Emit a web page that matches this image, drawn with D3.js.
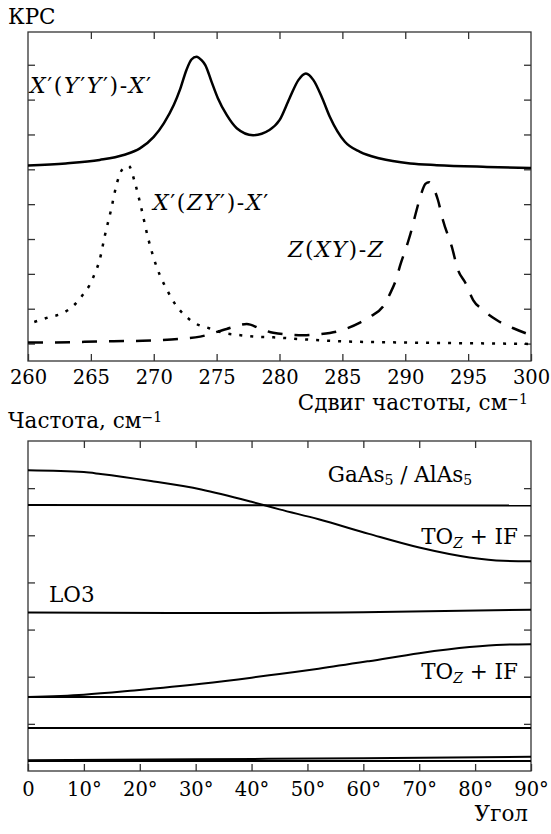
<!DOCTYPE html>
<html>
<head>
<meta charset="utf-8">
<script src="https://cdn.jsdelivr.net/npm/d3@7"></script>
<style>
  body { margin: 0; background: #fff; }
  svg text { font-family: "DejaVu Serif", "Liberation Serif", "Times New Roman", serif; }
</style>
</head>
<body>
<div id="chart"></div>
<script>
// --- top panel: Raman spectra (frequency shift, cm-1 ; arbitrary intensity)
const shiftTicks = [260, 265, 270, 275, 280, 285, 290, 295, 300];

const solidFreq = [260, 263, 265.7, 267.6, 268.9, 270, 270.8, 271.6, 272.1, 272.6, 273, 273.4, 273.8, 274.1, 274.6, 275.1, 275.8, 276.6, 277.9, 279.2, 280, 280.8, 281.5, 282.1, 282.7, 283.4, 284, 285.2, 286.4, 288, 290.4, 292.5, 296.5, 300];
const solidVal  = [5.11, 5.17, 5.27, 5.41, 5.6, 5.93, 6.32, 6.85, 7.3, 7.85, 8.15, 8.23, 8.13, 7.99, 7.51, 7.04, 6.56, 6.18, 5.98, 6.13, 6.41, 7.04, 7.56, 7.75, 7.56, 7.04, 6.51, 5.79, 5.5, 5.31, 5.17, 5.12, 5.07, 5.04];

const dotFreq = [260.5, 261.6, 262.8, 263.6, 264.3, 264.9, 265.3, 265.7, 266.1, 266.6, 267.1, 267.5, 268, 268.5, 269, 269.5, 270, 270.5, 271, 271.8, 272.5, 273.3, 274.4, 275.4, 276.9, 278, 279.5, 282, 284.6, 290, 295, 300];
const dotVal  = [0.62, 0.75, 0.88, 1.08, 1.37, 1.68, 2.0, 2.4, 3.08, 3.83, 4.64, 5.0, 5.1, 4.62, 3.9, 3.1, 2.45, 1.95, 1.58, 1.08, 0.8, 0.58, 0.44, 0.32, 0.24, 0.2, 0.18, 0.12, 0.07, 0.03, 0.01, -0.01];

const dashFreq = [260, 261.6, 264.5, 266.8, 269.1, 271.4, 273.7, 275.8, 277.4, 278.4, 279.5, 281.9, 283.2, 284.5, 286.4, 287.2, 288.3, 288.8, 289.3, 289.6, 290.1, 290.5, 290.8, 291.2, 291.6, 291.9, 292.2, 292.6, 293, 293.7, 294.2, 294.8, 295.4, 296.2, 297.3, 298.6, 300];
const dashVal  = [0.03, 0.03, 0.05, 0.07, 0.08, 0.12, 0.2, 0.42, 0.56, 0.44, 0.31, 0.24, 0.27, 0.34, 0.6, 0.77, 1.1, 1.44, 1.87, 2.25, 2.78, 3.26, 3.69, 4.21, 4.58, 4.63, 4.5, 4.12, 3.54, 2.78, 2.11, 1.73, 1.25, 0.96, 0.67, 0.44, 0.24];

// --- bottom panel: mode frequency vs angle (arbitrary units)
const angleTicks = [0, 10, 20, 30, 40, 50, 60, 70, 80, 90];
const angleLabels = ["0", "10°", "20°", "30°", "40°", "50°", "60°", "70°", "80°", "90°"];

const modeAngles = [
  [0, 10, 13, 22, 31, 40, 45, 52, 61, 70, 79, 85, 90],
  [0, 90],
  [0, 40, 60, 90],
  [0, 10, 19, 31, 40, 45, 52, 61, 70, 79, 85, 90],
  [0, 90],
  [0, 90],
  [0, 90],
  [0, 30, 60, 90]
];
const modeFreqs = [
  [6.38, 6.34, 6.30, 6.15, 5.97, 5.71, 5.55, 5.34, 5.03, 4.74, 4.53, 4.46, 4.45],
  [5.64, 5.63],
  [3.36, 3.35, 3.37, 3.42],
  [1.57, 1.62, 1.71, 1.85, 1.98, 2.06, 2.17, 2.33, 2.50, 2.63, 2.68, 2.69],
  [1.57, 1.57],
  [0.91, 0.91],
  [0.21, 0.21],
  [0.23, 0.25, 0.27, 0.30]
];

const W = 551, H = 834;
const svg = d3.select("#chart").append("svg")
    .attr("width", W)
    .attr("height", H);

const left = 28, right = 531;
const top1 = 32, bot1 = 361;
const top2 = 441, bot2 = 771;
const fs = 21.5;     // titles and labels
const tickFs = 19.5; // tick numbers

// ---------- top panel
const x1 = d3.scaleLinear().domain([260, 300]).range([left, right]);
const y1 = d3.scaleLinear().domain([-0.5, 8.94]).range([bot1, top1]);

function frame(t, b) {
  svg.append("rect")
      .attr("x", left).attr("y", t)
      .attr("width", right - left).attr("height", b - t)
      .attr("fill", "none")
      .attr("stroke", "#333")
      .attr("stroke-width", 1.3);
}

function tickGroup(axis, tx, ty) {
  const g = svg.append("g")
      .attr("transform", `translate(${tx},${ty})`)
      .call(axis)
      .attr("font-size", tickFs);
  g.select(".domain").remove();
  g.selectAll(".tick line").attr("stroke", "#333").attr("stroke-width", 1.3);
  g.selectAll("text").attr("fill", "#000");
  return g;
}

frame(top1, bot1);
tickGroup(d3.axisBottom(x1).tickValues(shiftTicks).tickSize(-7).tickPadding(9).tickFormat(d3.format("d")), 0, bot1);
tickGroup(d3.axisTop(x1).tickValues(shiftTicks.slice(1, -1)).tickSize(-7).tickFormat(""), 0, top1);
tickGroup(d3.axisLeft(y1).tickValues(d3.range(0, 9)).tickSize(-7).tickFormat(""), left, 0);
tickGroup(d3.axisRight(y1).tickValues(d3.range(0, 9)).tickSize(-7).tickFormat(""), right, 0);

function spectrum(fr, val, dash, w) {
  const pts = fr.map((f, i) => [f, val[i]]);
  svg.append("path")
      .datum(pts)
      .attr("fill", "none")
      .attr("stroke", "#000")
      .attr("stroke-width", w)
      .attr("stroke-dasharray", dash)
      .attr("d", d3.line().x(d => x1(d[0])).y(d => y1(d[1])).curve(d3.curveMonotoneX));
}
spectrum(solidFreq, solidVal, null, 2.5);
spectrum(dotFreq, dotVal, "3,8", 2.5);
spectrum(dashFreq, dashVal, "15,12", 2.5);

// math labels: italic letters, upright brackets and primes
function mathLabel(x, y, parts) {
  const t = svg.append("text").attr("x", x).attr("y", y)
      .attr("font-size", 22).attr("letter-spacing", 1.6);
  parts.forEach(p => {
    t.append("tspan").attr("font-style", p[1] ? "italic" : "normal").text(p[0]);
  });
  return t;
}
mathLabel(30, 93, [["X", 1], ["′(", 0], ["Y", 1], ["′", 0], ["Y", 1], ["′)-", 0], ["X", 1], ["′", 0]]);
mathLabel(153, 210, [["X", 1], ["′(", 0], ["ZY", 1], ["′)-", 0], ["X", 1], ["′", 0]]);
mathLabel(288, 257, [["Z", 1], ["(", 0], ["XY", 1], [")-", 0], ["Z", 1]]);

svg.append("text").attr("x", 8).attr("y", 24).attr("font-size", fs).text("КРС");

function unitTitle(x, y, anchor, txt) {
  const t = svg.append("text").attr("x", x).attr("y", y).attr("font-size", fs).attr("text-anchor", anchor);
  t.append("tspan").text(txt);
  t.append("tspan").attr("font-size", 14).attr("dy", -6).text("−1");
  return t;
}
unitTitle(528, 410, "end", "Сдвиг частоты, см");
unitTitle(8, 428, "start", "Частота, см");

// ---------- bottom panel
const x2 = d3.scaleLinear().domain([0, 90]).range([left, right]);
const y2 = d3.scaleLinear().domain([0, 7]).range([bot2, top2]);

frame(top2, bot2);
tickGroup(d3.axisBottom(x2).tickValues(angleTicks).tickSize(-7).tickPadding(11).tickFormat((d, i) => angleLabels[i]), 0, bot2);
tickGroup(d3.axisTop(x2).tickValues(angleTicks.slice(1, -1)).tickSize(-7).tickFormat(""), 0, top2);
tickGroup(d3.axisLeft(y2).tickValues(d3.range(1, 7)).tickSize(-7).tickFormat(""), left, 0);
tickGroup(d3.axisRight(y2).tickValues(d3.range(1, 7)).tickSize(-7).tickFormat(""), right, 0);

const modeLine = d3.line().x(d => x2(d[0])).y(d => y2(d[1])).curve(d3.curveMonotoneX);
modeAngles.forEach((a, k) => {
  svg.append("path")
      .datum(a.map((v, i) => [v, modeFreqs[k][i]]))
      .attr("fill", "none")
      .attr("stroke", "#000")
      .attr("stroke-width", 2)
      .attr("d", modeLine);
});

function toLabel(xEnd, y) {
  const t = svg.append("text").attr("x", xEnd).attr("y", y).attr("font-size", fs).attr("text-anchor", "end");
  t.append("tspan").text("TO");
  t.append("tspan").attr("font-style", "italic").attr("font-size", 14).attr("dy", 4).text("Z");
  t.append("tspan").attr("dy", -4).text(" + IF");
}
toLabel(518, 544);
toLabel(518, 679);

const ga = svg.append("text").attr("x", 400).attr("y", 482).attr("font-size", fs).attr("text-anchor", "middle");
ga.append("tspan").text("GaAs");
ga.append("tspan").attr("font-size", 14).attr("dy", 3).text("5");
ga.append("tspan").attr("dy", -3).text(" / AlAs");
ga.append("tspan").attr("font-size", 14).attr("dy", 3).text("5");

svg.append("text").attr("x", 49).attr("y", 602).attr("font-size", fs).text("LO3");
svg.append("text").attr("x", 528).attr("y", 821).attr("font-size", fs).attr("text-anchor", "end").text("Угол");
</script>
</body>
</html>
